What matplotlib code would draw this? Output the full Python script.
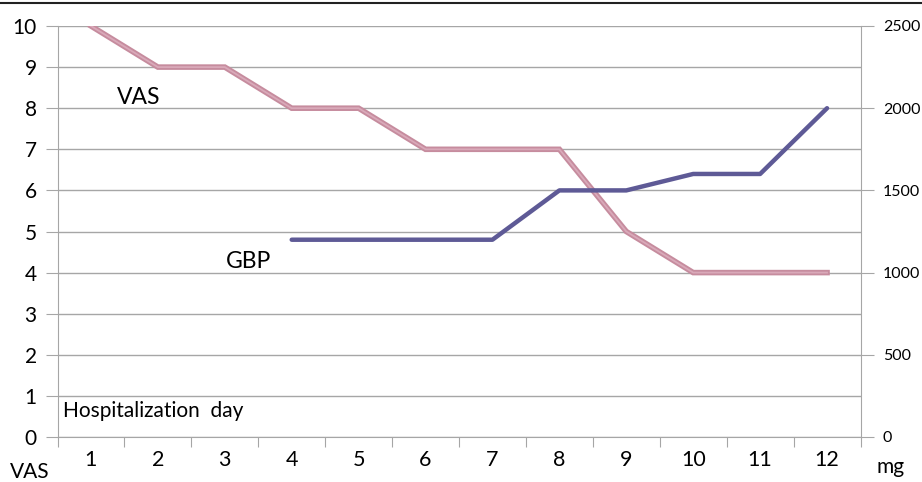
import numpy as np
import matplotlib.pyplot as plt

# data
days = np.arange(1, 13)
vas = [10, 9, 9, 8, 8, 7, 7, 7, 5, 4, 4, 4]
gbp_days = [4, 5, 6, 7, 8, 9, 10, 11, 12]
gbp_mg = [1200, 1200, 1200, 1200, 1500, 1500, 1600, 1600, 2000]

plt.rcParams['font.family'] = ['Lato', 'DejaVu Sans']

fig = plt.figure(figsize=(9.22, 4.82), dpi=100)
ax = fig.add_axes([57.5 / 922, 1 - 437 / 482, 803 / 922, 411 / 482])

grid_c = '#a6a6a6'
vas_edge = '#c68c9e'
vas_mid = '#d9a9b9'
gbp_c = '#5e5a96'

# VAS line: pink with a slightly lighter core
ax.plot(days, vas, color=vas_edge, lw=4.0, solid_joinstyle='miter', zorder=3)
ax.plot(days, vas, color=vas_mid, lw=1.3, solid_joinstyle='miter', zorder=4)

ax.set_xlim(0.5, 12.5)
ax.set_ylim(0, 10)
ax.set_yticks(range(0, 11))
ax.yaxis.grid(True, color=grid_c, lw=1)
ax.set_axisbelow(True)
ax.set_xticks(np.arange(0.5, 12.6, 1))
ax.set_xticklabels([])
ax.set_xticks(days, minor=True)
ax.set_xticklabels([str(d) for d in days], minor=True)
ax.tick_params(axis='x', which='major', length=7, color=grid_c, direction='out')
ax.tick_params(axis='x', which='minor', length=0, pad=9, labelsize=15.5)
ax.tick_params(axis='y', length=9, color=grid_c, pad=6, labelsize=15)
for s in ['top', 'right']:
    ax.spines[s].set_visible(False)
for s in ['left', 'bottom']:
    ax.spines[s].set_color(grid_c)

ax2 = ax.twinx()
ax2.plot(gbp_days, gbp_mg, color=gbp_c, lw=3.2, solid_capstyle='round', zorder=5)
ax2.set_ylim(0, 2500)
ax2.set_yticks(range(0, 2501, 500))
ax2.tick_params(axis='y', length=9, color=grid_c, pad=7, labelsize=11.5)
for s in ['top', 'left', 'bottom']:
    ax2.spines[s].set_visible(False)
ax2.spines['right'].set_color(grid_c)

ax.text(1.72, 8.27, 'VAS', fontsize=16.5, ha='center', va='center')
ax.text(3.36, 4.26, 'GBP', fontsize=16.5, ha='center', va='center')
ax.text(0.58, 0.63, 'Hospitalization  day', fontsize=15, ha='left', va='center')
fig.text(30 / 922, 1 - 472 / 482, 'VAS', fontsize=15, ha='center', va='center')
fig.text(891 / 922, 1 - 467 / 482, 'mg', fontsize=15, ha='center', va='center')

# thin border line along the top of the image
fig.add_artist(plt.Line2D([0, 1], [1 - 3 / 482, 1 - 3 / 482], color='#222222', lw=1.5,
                          transform=fig.transFigure))

fig.savefig('out.png', dpi=100)
